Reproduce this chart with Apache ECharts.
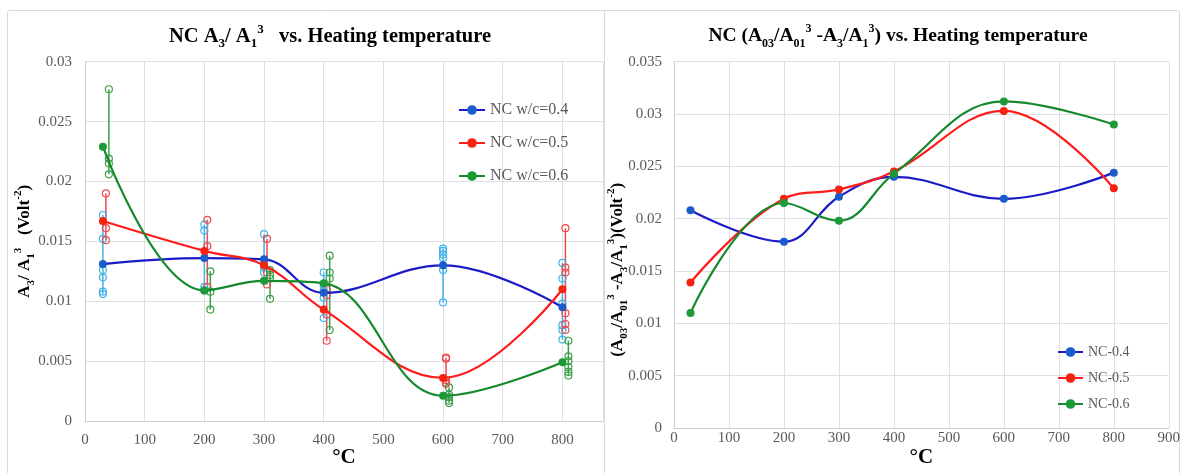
<!DOCTYPE html>
<html>
<head>
<meta charset="utf-8">
<script src="https://cdn.jsdelivr.net/npm/echarts@6/dist/echarts.min.js"></script>
<style>
  html, body { margin: 0; padding: 0; background: #fff; }
  #chart { width: 1186px; height: 473px; }
</style>
</head>
<body>
<div id="chart"></div>
<script>
// Heating temperatures (°C) of the main curves
const temps = [30, 200, 300, 400, 600, 800];

// A3/A1^3 averages per mix
const a3Blue  = [0.0131, 0.0136, 0.0135, 0.0107, 0.0130, 0.0095];
const a3Red   = [0.0167, 0.0142, 0.0130, 0.0093, 0.0036, 0.0110];
const a3Green = [0.0229, 0.0109, 0.0117, 0.0115, 0.0021, 0.0049];

// Replicate positions (slightly offset per mix) and replicate values
const repTempsBlue  = [30, 200, 300, 400, 600, 800];
const repTempsRed   = [35, 205, 305, 405, 605, 805];
const repTempsGreen = [40, 210, 310, 410, 610, 810];

const repBlue = [
  [0.0172, 0.0152, 0.0126, 0.0120, 0.0108, 0.0106],
  [0.0164, 0.0159, 0.0112, 0.0109],
  [0.0156, 0.0131, 0.0128, 0.0124],
  [0.0124, 0.0113, 0.0109, 0.0103, 0.0086],
  [0.0144, 0.0142, 0.0139, 0.0136, 0.0126, 0.0099],
  [0.0132, 0.0119, 0.0098, 0.0080, 0.0076, 0.0068]
];
const repRed = [
  [0.0190, 0.0161, 0.0151],
  [0.0168, 0.0146, 0.0112],
  [0.0152, 0.0124, 0.0114],
  [0.0110, 0.0105, 0.0089, 0.0067],
  [0.0053, 0.0052, 0.0034, 0.0032, 0.0031],
  [0.0161, 0.0128, 0.0124, 0.0090, 0.0081, 0.0076]
];
const repGreen = [
  [0.0277, 0.0219, 0.0215, 0.0206],
  [0.0125, 0.0108, 0.0093],
  [0.0126, 0.0122, 0.0119, 0.0102],
  [0.0138, 0.0124, 0.0119, 0.0076],
  [0.0028, 0.0022, 0.0020, 0.0017, 0.0015],
  [0.0067, 0.0054, 0.0050, 0.0045, 0.0041, 0.0038]
];

// (A03/A01^3 - A3/A1^3) per mix
const diffBlue  = [0.0208, 0.0178, 0.0221, 0.0240, 0.0219, 0.0244];
const diffRed   = [0.0139, 0.0219, 0.0228, 0.0245, 0.0303, 0.0229];
const diffGreen = [0.0110, 0.0215, 0.0198, 0.0243, 0.0312, 0.0290];

// Series and tick labels
const namesLeft  = ['NC w/c=0.4', 'NC w/c=0.5', 'NC w/c=0.6'];
const namesRight = ['NC-0.4', 'NC-0.5', 'NC-0.6'];
const xTicksLeft  = [0, 100, 200, 300, 400, 500, 600, 700, 800];
const xTicksRight = [0, 100, 200, 300, 400, 500, 600, 700, 800, 900];

const SERIF = '"Liberation Serif", "Times New Roman", serif';
const GRAY = '#595959';
const GRID_LINE = '#dde0e7';

const BLUE_LINE = '#1c1cc6', BLUE_MARK = '#1a5cc9', BLUE_REP = '#3fb3e6';
const RED_LINE = '#ff1c1c', RED_MARK = '#f5230f', RED_REP = '#f0484c';
const GREEN_LINE = '#15892b', GREEN_MARK = '#1c9a38', GREEN_REP = '#3c9f49';

// rich text styles for sub/superscripts
function richSet(size) {
  const small = Math.round(size * 0.62);
  return {
    t:  { fontFamily: SERIF, fontWeight: 'bold', fontSize: size, color: '#000', lineHeight: size + 7, verticalAlign: 'middle' },
    sb: { fontFamily: SERIF, fontWeight: 'bold', fontSize: small, color: '#000', lineHeight: small + 2, verticalAlign: 'bottom' },
    sp: { fontFamily: SERIF, fontWeight: 'bold', fontSize: small, color: '#000', lineHeight: small + 2, verticalAlign: 'top' }
  };
}

function pairs(xs, ys) { return xs.map((x, i) => [x, ys[i]]); }

function repData(xs, groups) {
  const out = [];
  groups.forEach((g, i) => {
    g.forEach(v => out.push([xs[i], v]));
    out.push([xs[i], '-']);
  });
  return out;
}

function mainLine(name, ys, lineColor, markColor, axis) {
  return {
    type: 'line', name, xAxisIndex: axis, yAxisIndex: axis,
    data: pairs(temps, ys), smooth: 0.4,
    symbol: 'circle', symbolSize: 8,
    lineStyle: { color: lineColor, width: 2.2 },
    itemStyle: { color: markColor },
    emphasis: { disabled: true }, z: 5
  };
}

function repLine(name, xs, groups, color) {
  return {
    type: 'line', name, xAxisIndex: 0, yAxisIndex: 0,
    data: repData(xs, groups), connectNulls: false,
    symbol: 'circle', symbolSize: 7,
    lineStyle: { color, width: 1.5 },
    itemStyle: { color: 'rgba(255,255,255,0)', borderColor: color, borderWidth: 1.2 },
    emphasis: { disabled: true }, z: 3
  };
}

const axisLabel = { fontFamily: SERIF, fontSize: 15, color: GRAY };
const yFmt = v => String(+v.toFixed(4));

const option = {
  animation: false,
  backgroundColor: '#fff',
  graphic: [
    { type: 'rect', z: -10, shape: { x: 7.5, y: 10.5, width: 640, height: 480, r: 2 },
      style: { fill: '#fff', stroke: '#d9d9d9', lineWidth: 1 } },
    { type: 'rect', z: -9, shape: { x: 604.5, y: 10.5, width: 575, height: 480, r: 2 },
      style: { fill: '#fff', stroke: '#d9d9d9', lineWidth: 1 } }
  ],
  title: [
    { text: '{t|NC A}{sb|3}{t|/ A}{sb|1}{sp|3}{t|   vs. Heating temperature}',
      left: 325, top: 18, textAlign: 'center',
      textStyle: { rich: richSet(20.5) } },
    { text: '{t|NC (A}{sb|03}{t|/A}{sb|01}{sp|3}{t| -A}{sb|3}{t|/A}{sb|1}{sp|3}{t|) vs. Heating temperature}',
      left: 893, top: 18, textAlign: 'center',
      textStyle: { rich: richSet(19.5) } }
  ],
  legend: [
    { data: namesLeft, orient: 'vertical', left: 453, top: 97,
      itemWidth: 26, itemHeight: 12, itemGap: 17,
      textStyle: { fontFamily: SERIF, fontSize: 16, color: GRAY } },
    { data: namesRight, orient: 'vertical', left: 1052, top: 340,
      itemWidth: 25, itemHeight: 12, itemGap: 12,
      textStyle: { fontFamily: SERIF, fontSize: 14, color: GRAY } }
  ],
  grid: [
    { left: 85, top: 61.7, width: 518, height: 360 },
    { left: 674, top: 61.7, width: 494.8, height: 370 }
  ],
  xAxis: [
    { type: 'value', gridIndex: 0, min: 0, max: 868, interval: 100,
      axisLine: { show: true, lineStyle: { color: '#c9ccd3' } }, axisTick: { show: false },
      splitLine: { lineStyle: { color: GRID_LINE } },
      axisLabel: Object.assign({ margin: 12,
        formatter: v => (xTicksLeft.indexOf(v) >= 0 ? String(v) : '') }, axisLabel),
      name: '°C', nameLocation: 'middle', nameGap: 26, nameMoveOverlap: false,
      nameTextStyle: { fontFamily: SERIF, fontWeight: 'bold', fontSize: 21, color: '#000' } },
    { type: 'value', gridIndex: 1, min: 0, max: 900, interval: 100,
      axisLine: { show: true, lineStyle: { color: '#c9ccd3' } }, axisTick: { show: false },
      splitLine: { lineStyle: { color: GRID_LINE } },
      axisLabel: Object.assign({ margin: 3,
        formatter: v => (xTicksRight.indexOf(v) >= 0 ? String(v) : '') }, axisLabel),
      name: '°C', nameLocation: 'middle', nameGap: 19, nameMoveOverlap: false,
      nameTextStyle: { fontFamily: SERIF, fontWeight: 'bold', fontSize: 21, color: '#000' } }
  ],
  yAxis: [
    { type: 'value', gridIndex: 0, min: 0, max: 0.03, interval: 0.005,
      axisLine: { show: true, lineStyle: { color: '#c9ccd3' } }, axisTick: { show: false },
      splitLine: { lineStyle: { color: GRID_LINE } },
      axisLabel: Object.assign({ margin: 13, formatter: yFmt }, axisLabel),
      name: '{t|A}{sb|3}{t|/ A}{sb|1}{sp|3}{t|   (Volt}{sp|-2}{t|)}',
      nameLocation: 'middle', nameRotate: 90, nameGap: 48, nameMoveOverlap: false,
      nameTextStyle: { rich: richSet(17) } },
    { type: 'value', gridIndex: 1, min: 0, max: 0.035, interval: 0.005,
      axisLine: { show: true, lineStyle: { color: '#c9ccd3' } }, axisTick: { show: false },
      splitLine: { lineStyle: { color: GRID_LINE } },
      axisLabel: Object.assign({ margin: 12, formatter: yFmt }, axisLabel),
      name: '{t|(A}{sb|03}{t|/A}{sb|01}{sp|3}{t| -A}{sb|3}{t|/A}{sb|1}{sp|3}{t|)(Volt}{sp|-2}{t|)}',
      nameLocation: 'middle', nameRotate: 90, nameGap: 44, nameMoveOverlap: false,
      nameTextStyle: { rich: richSet(17), padding: [0, 50, 0, 0] } }
  ],
  series: [
    repLine('rep 0.4', repTempsBlue, repBlue, BLUE_REP),
    repLine('rep 0.5', repTempsRed, repRed, RED_REP),
    repLine('rep 0.6', repTempsGreen, repGreen, GREEN_REP),
    mainLine(namesLeft[0], a3Blue, BLUE_LINE, BLUE_MARK, 0),
    mainLine(namesLeft[1], a3Red, RED_LINE, RED_MARK, 0),
    mainLine(namesLeft[2], a3Green, GREEN_LINE, GREEN_MARK, 0),
    mainLine(namesRight[0], diffBlue, BLUE_LINE, BLUE_MARK, 1),
    mainLine(namesRight[1], diffRed, RED_LINE, RED_MARK, 1),
    mainLine(namesRight[2], diffGreen, GREEN_LINE, GREEN_MARK, 1)
  ]
};

const chart = echarts.init(document.getElementById('chart'), null, { renderer: 'canvas' });
chart.setOption(option);
</script>
</body>
</html>
